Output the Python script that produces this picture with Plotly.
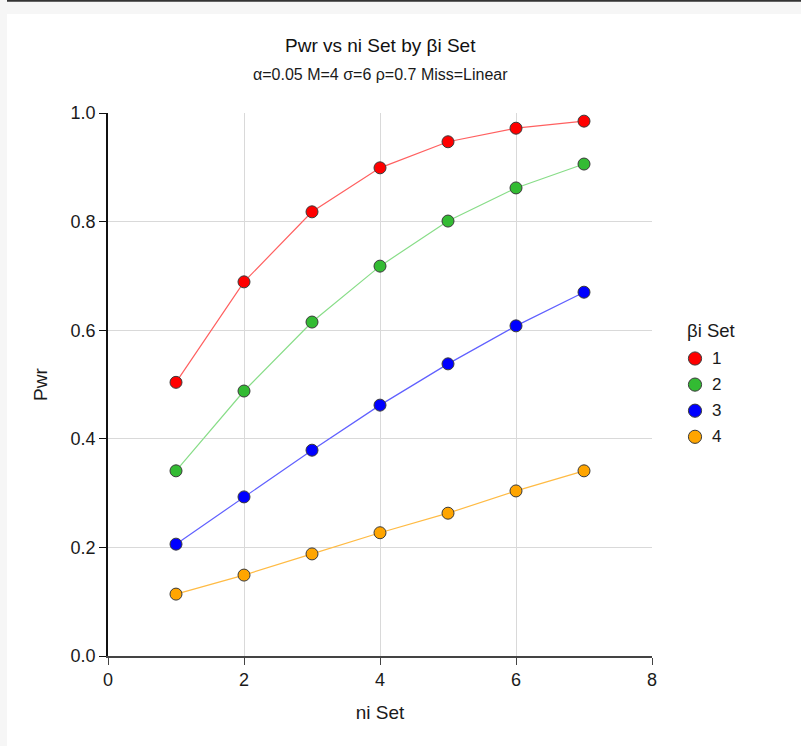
import plotly.graph_objects as go

# Power by sample size (ni Set) for each effect-size set (βi Set)
ni_set = [1, 2, 3, 4, 5, 6, 7]
beta_sets = ["1", "2", "3", "4"]
pwr_1 = [0.504, 0.689, 0.818, 0.899, 0.947, 0.972, 0.985]
pwr_2 = [0.341, 0.488, 0.615, 0.718, 0.801, 0.862, 0.906]
pwr_3 = [0.206, 0.293, 0.379, 0.462, 0.538, 0.608, 0.670]
pwr_4 = [0.114, 0.149, 0.188, 0.227, 0.263, 0.304, 0.341]
y_ticks = [0.0, 0.2, 0.4, 0.6, 0.8, 1.0]
x_ticks = [0, 2, 4, 6, 8]

marker_colors = ["#ff0000", "#33bb33", "#0000ff", "#ffa500"]
line_colors = ["#ff6060", "#88dd88", "#6060ff", "#ffbb44"]
series = [pwr_1, pwr_2, pwr_3, pwr_4]

FONT = "Liberation Sans, Arial, sans-serif"
TXT = "#1a1a1a"

# plot area in pixels (used to place legend pieces in paper units)
L, R, T, B = 108, 652, 113, 656
W, H = R - L, B - T


def px_x(px):
    return (px - L) / W


def px_y(py):
    return (B - py) / H


fig = go.Figure()
# connecting lines first so every marker sits on top of them
for ys, lc in zip(series, line_colors):
    fig.add_trace(go.Scatter(
        x=ni_set, y=ys, mode="lines", showlegend=False, hoverinfo="skip",
        line=dict(color=lc, width=1.2),
    ))
for name, ys, mc in zip(beta_sets, series, marker_colors):
    fig.add_trace(go.Scatter(
        x=ni_set, y=ys, name=name, mode="markers", showlegend=False,
        marker=dict(color=mc, size=12, line=dict(color="#3a3a3a", width=1)),
    ))

shapes = [
    # white page area inside the grey frame
    dict(type="rect", xref="paper", yref="paper", layer="below",
         x0=px_x(7), x1=px_x(810), y0=px_y(760), y1=px_y(14),
         fillcolor="white", line=dict(width=0)),
    # dark rule along the top edge
    dict(type="line", xref="paper", yref="paper",
         x0=px_x(7), x1=px_x(810), y0=px_y(0.8), y1=px_y(0.8),
         line=dict(color="#333333", width=2)),
]
annotations = [
    dict(text="Pwr vs ni Set by βi Set", xref="paper", yref="paper",
         x=0.5, y=px_y(45), xanchor="center", yanchor="middle",
         showarrow=False, font=dict(size=19, family=FONT, color="#111")),
    dict(text="α=0.05 M=4 σ=6 ρ=0.7 Miss=Linear", xref="paper", yref="paper",
         x=0.5, y=px_y(75), xanchor="center", yanchor="middle",
         showarrow=False, font=dict(size=16, family=FONT, color=TXT)),
    # legend title
    dict(text="βi Set", xref="paper", yref="paper",
         x=px_x(685), y=px_y(330.5), xanchor="left", yanchor="middle",
         showarrow=False, font=dict(size=18.5, family=FONT, color=TXT)),
]

# legend entries: a round swatch and its label, one row per βi set
legend_top, legend_step, r = 358.5, 26.1, 6.6
for i, (name, mc) in enumerate(zip(beta_sets, marker_colors)):
    cy = legend_top + i * legend_step
    shapes.append(dict(
        type="circle", xref="paper", yref="paper",
        x0=px_x(695 - r), x1=px_x(695 + r), y0=px_y(cy + r), y1=px_y(cy - r),
        fillcolor=mc, line=dict(color="#3a3a3a", width=1),
    ))
    annotations.append(dict(
        text=name, xref="paper", yref="paper",
        x=px_x(710), y=px_y(cy), xanchor="left", yanchor="middle",
        showarrow=False, font=dict(size=17, family=FONT, color=TXT),
    ))

fig.update_layout(
    width=801, height=746,
    margin=dict(l=L, r=801 - R, t=T, b=746 - B),
    paper_bgcolor="#f6f6f6",
    plot_bgcolor="white",
    font=dict(family=FONT, color=TXT),
    showlegend=False,
    xaxis=dict(
        range=[0, 8], tickvals=x_ticks, ticktext=[str(v) for v in x_ticks],
        showgrid=True, gridcolor="#d9d9d9", gridwidth=1,
        showline=True, linecolor="#444444", linewidth=1.5,
        ticks="outside", ticklen=7, tickcolor="#444444",
        tickfont=dict(size=18, family=FONT, color=TXT),
        title=dict(text="ni Set", font=dict(size=19, family=FONT, color=TXT), standoff=16),
        zeroline=False,
    ),
    yaxis=dict(
        range=[0, 1], tickvals=y_ticks, ticktext=[f"{v:.1f}" for v in y_ticks],
        showgrid=True, gridcolor="#d9d9d9", gridwidth=1,
        showline=True, linecolor="#111111", linewidth=1.5,
        ticks="outside", ticklen=7, tickcolor="#111111",
        tickfont=dict(size=18, family=FONT, color=TXT),
        title=dict(text="Pwr", font=dict(size=19, family=FONT, color=TXT), standoff=18),
        zeroline=False,
    ),
    shapes=shapes,
    annotations=annotations,
)

fig.write_html("out.html")
